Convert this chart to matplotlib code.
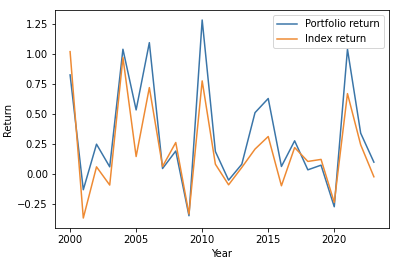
import matplotlib
matplotlib.use("Agg")
import matplotlib.pyplot as plt

# Yearly returns
years = list(range(2000, 2024))
portfolio_return = [0.825, -0.133, 0.247, 0.058, 1.039, 0.533, 1.094, 0.044, 0.19, -0.35,
                    1.283, 0.186, -0.053, 0.08, 0.51, 0.628, 0.061, 0.275, 0.033, 0.072,
                    -0.275, 1.039, 0.339, 0.097]
index_return = [1.019, -0.369, 0.058, -0.094, 0.97, 0.144, 0.719, 0.061, 0.261, -0.336,
                0.775, 0.08, -0.092, 0.053, 0.206, 0.311, -0.1, 0.219, 0.103, 0.12,
                -0.239, 0.669, 0.242, -0.025]

fig, ax = plt.subplots(figsize=(395 / 72, 259 / 72), dpi=72)
ax.plot(years, portfolio_return, color='#3a75a8', label='Portfolio return')
ax.plot(years, index_return, color='#ee8a33', label='Index return')

ax.set_xlabel('Year')
ax.set_ylabel('Return')
ax.legend()

plt.subplots_adjust(left=0.139, right=0.985, top=0.961, bottom=0.12)
plt.savefig('out.png', dpi=72)
